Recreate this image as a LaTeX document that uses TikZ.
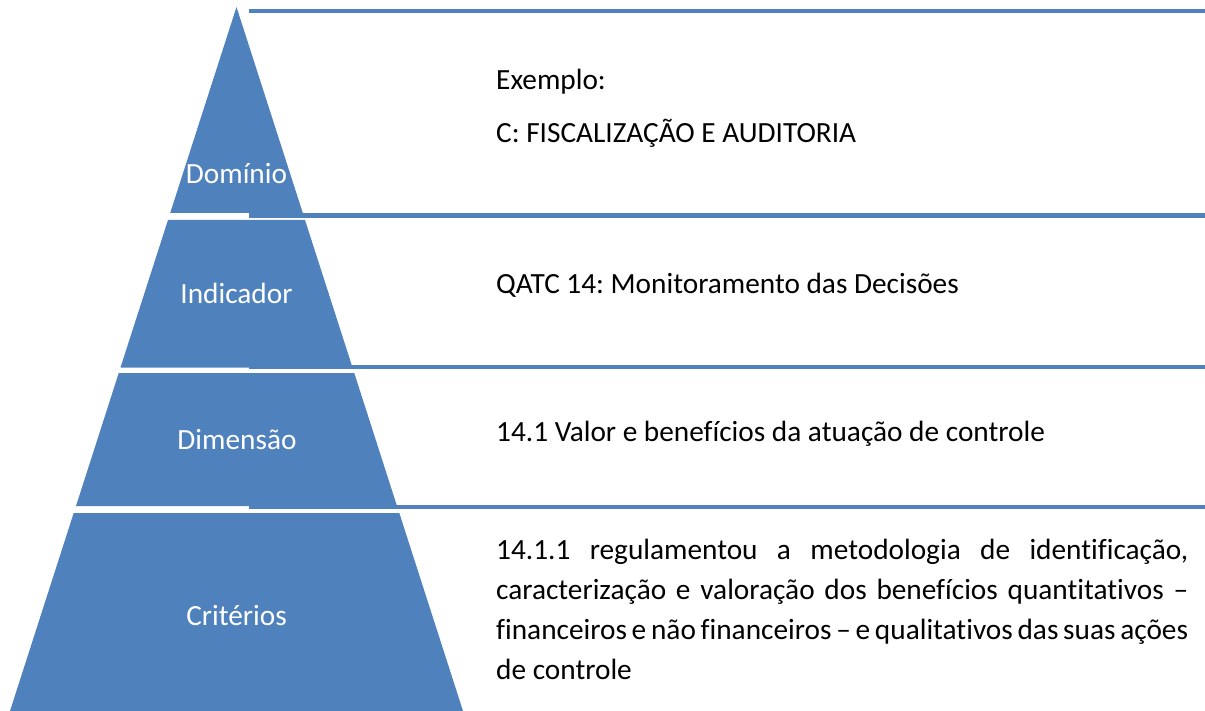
\documentclass[tikz,border=0pt]{standalone}
\usepackage{fontspec}
\setmainfont{Carlito}[Ligatures=NoCommon]
\definecolor{pblue}{HTML}{4F81BD}
\frenchspacing
\begin{document}
\begin{tikzpicture}[x=1pt,y=-1pt,
  seg/.style={fill=pblue},
  rule/.style={draw=pblue,line width=4.5pt},
  lab/.style={text=white,font=\fontsize{29.3}{34}\selectfont,inner sep=0pt,anchor=base},
  txt/.style={text=black,font=\fontsize{29.3}{40}\selectfont,inner sep=0pt,anchor=base west}]
\useasboundingbox (0,0) rectangle (1205,711);
% pyramid segments
\fill[seg] (236.5,7) -- (302.8,213) -- (170.2,213) -- cycle;
\fill[seg] (168.0,220) -- (305.0,220) -- (352.5,367.5) -- (120.5,367.5) -- cycle;
\fill[seg] (118.75,373) -- (354.25,373) -- (397.0,506) -- (76.0,506) -- cycle;
\fill[seg] (73.7,513) -- (399.3,513) -- (463,711) -- (10,711) -- cycle;
% rules
\coordinate (r1a) at (249,11);    \coordinate (r1b) at (1205,11);
\coordinate (r2a) at (249,215.3); \coordinate (r2b) at (1205,215.3);
\coordinate (r3a) at (249,367);   \coordinate (r3b) at (1205,367);
\coordinate (r4a) at (249,507);   \coordinate (r4b) at (1205,507);
\draw[rule] (r1a) -- (r1b);
\draw[rule] (r2a) -- (r2b);
\draw[rule] (r3a) -- (r3b);
\draw[rule] (r4a) -- (r4b);
% labels
\node[lab] (dom) at (236.5,184) {Domínio};
\node[lab] (ind) at (236.5,303.5) {Indicador};
\node[lab] (dim) at (237,449.5) {Dimensão};
\node[lab] (cri) at (236.5,625) {Critérios};
% texts
\node[txt] (ex) at (496,89.5) {Exemplo:};
\node[txt] (c) at (496,142.5) {C: FISCALIZAÇÃO E AUDITORIA};
\node[txt] (qatc) at (496,293.5) {QATC 14: Monitoramento das Decisões};
\node[txt] (val) at (496,441.5) {14.1 Valor e benefícios da atuação de controle};
\node[txt] (par) at (496,559) {\parbox[t]{692pt}{\fontsize{29.3}{40.3}\selectfont\hyphenpenalty=10000\exhyphenpenalty=10000\parindent=0pt 14.1.1 regulamentou a metodologia de identificação,\linebreak caracterização e valoração dos benefícios quantitativos~–\linebreak financeiros e não financeiros – e qualitativos das suas ações\linebreak de controle}};
\end{tikzpicture}
\end{document}
